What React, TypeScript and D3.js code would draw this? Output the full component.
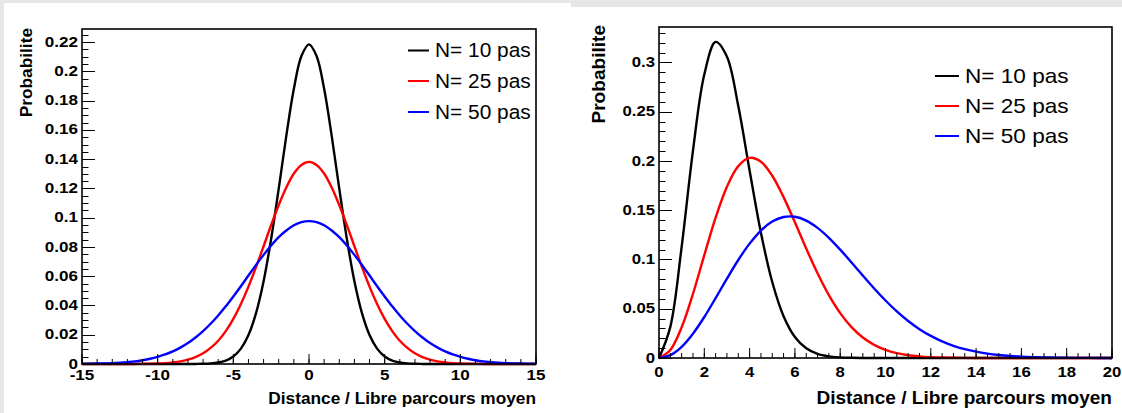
import React from "react";
import * as d3 from "d3";

// ---------- data ----------
const seriesNames = ["N= 10 pas", "N= 25 pas", "N= 50 pas"];
const seriesColors = ["#000000", "#ff0000", "#0000ff"];

const leftX = [
  -15, -14.5, -14, -13.5, -13, -12.5, -12, -11.5, -11, -10.5, -10, -9.5, -9, -8.5, -8, -7.5, -7, -6.5, -6, -5.5, -5,
  -4.5, -4, -3.5, -3, -2.5, -2, -1.5, -1, -0.5, 0, 0.5, 1, 1.5, 2, 2.5, 3, 3.5, 4, 4.5, 5, 5.5, 6, 6.5, 7, 7.5, 8,
  8.5, 9, 9.5, 10, 10.5, 11, 11.5, 12, 12.5, 13, 13.5, 14, 14.5, 15,
];
const leftN10 = [
  0, 0, 0, 0, 0, 0, 0, 0, 0, 0, 0, 0, 0, 0, 0,
  0.00005, 0.00014, 0.00039, 0.00099, 0.00234, 0.00514, 0.0105, 0.0198, 0.0348, 0.0566, 0.0856, 0.1199, 0.1559, 0.1881, 0.2105,
  0.2185,
  0.2105, 0.1881, 0.1559, 0.1199, 0.0856, 0.0566, 0.0348, 0.0198, 0.0105, 0.00514, 0.00234, 0.00099, 0.00039, 0.00014, 0.00005,
  0, 0, 0, 0, 0, 0, 0, 0, 0, 0, 0, 0, 0, 0, 0,
];
const leftN25 = [
  0, 0, 0, 0, 0, 0.00001, 0.00002, 0.00005, 0.0001, 0.0002, 0.0003, 0.0006, 0.0011, 0.0018, 0.003,
  0.0047, 0.0073, 0.011, 0.0159, 0.0225, 0.0308, 0.041, 0.0529, 0.0663, 0.0805, 0.095, 0.1087, 0.1207, 0.1302, 0.1361,
  0.1382,
  0.1361, 0.1302, 0.1207, 0.1087, 0.095, 0.0805, 0.0663, 0.0529, 0.041, 0.0308, 0.0225, 0.0159, 0.011, 0.0073, 0.0047,
  0.003, 0.0018, 0.0011, 0.0006, 0.0003, 0.0002, 0.0001, 0.00005, 0.00002, 0.00001, 0, 0, 0, 0, 0,
];
const leftN50 = [
  0.0001, 0.0002, 0.0003, 0.0004, 0.0006, 0.0009, 0.0013, 0.0018, 0.0026, 0.0036, 0.0049, 0.0065, 0.0086, 0.0112, 0.0143,
  0.0181, 0.0225, 0.0275, 0.0332, 0.0394, 0.0462, 0.0532, 0.0605, 0.0677, 0.0746, 0.081, 0.0867, 0.0913, 0.0948, 0.097,
  0.0977,
  0.097, 0.0948, 0.0913, 0.0867, 0.081, 0.0746, 0.0677, 0.0605, 0.0532, 0.0462, 0.0394, 0.0332, 0.0275, 0.0225, 0.0181,
  0.0143, 0.0112, 0.0086, 0.0065, 0.0049, 0.0036, 0.0026, 0.0018, 0.0013, 0.0009, 0.0006, 0.0004, 0.0003, 0.0002, 0.0001,
];

const rightX = [
  0, 0.5, 1, 1.5, 2, 2.5, 3, 3.5, 4, 4.5, 5, 5.5, 6, 6.5, 7, 7.5, 8, 8.5, 9, 9.5, 10, 10.5, 11, 11.5, 12, 12.5, 13,
  13.5, 14, 14.5, 15, 15.5, 16, 16.5, 17, 17.5, 18, 18.5, 19, 19.5, 20,
];
const rightN10 = [
  0, 0.0316, 0.1129, 0.2105, 0.2878, 0.3209, 0.3059, 0.2557, 0.1903, 0.1272, 0.0771, 0.0424, 0.0213, 0.0098, 0.0041,
  0.0016, 0.0006, 0.0002, 0.00006, 0.00002, 0, 0, 0, 0, 0, 0, 0, 0, 0, 0, 0, 0, 0, 0, 0, 0, 0, 0, 0, 0, 0,
];
const rightN25 = [
  0, 0.0082, 0.0312, 0.0652, 0.1044, 0.1425, 0.1739, 0.1948, 0.2032, 0.1993, 0.185, 0.1633, 0.1377, 0.1111, 0.086,
  0.0638, 0.0456, 0.0314, 0.0208, 0.0133, 0.0082, 0.0049, 0.0028, 0.0016, 0.00085, 0.00044, 0.00022, 0.00011, 0.00005,
  0.00002, 0.00001, 0, 0, 0, 0, 0, 0, 0, 0, 0, 0,
];
const rightN50 = [
  0, 0.0029, 0.0114, 0.0247, 0.0416, 0.0608, 0.0806, 0.0995, 0.1161, 0.1294, 0.1385, 0.1431, 0.1434, 0.1395, 0.1321,
  0.122, 0.11, 0.097, 0.0836, 0.0706, 0.0584, 0.0473, 0.0376, 0.0293, 0.0225, 0.0169, 0.0124, 0.009, 0.0064, 0.0045,
  0.0031, 0.0021, 0.0014, 0.0009, 0.0006, 0.0004, 0.0002, 0.00014, 0.00008, 0.00005, 0.00003,
];

const leftXTicks = [-15, -10, -5, 0, 5, 10, 15];
const leftXLabels = ["-15", "-10", "-5", "0", "5", "10", "15"];
const leftYTicks = [0, 0.02, 0.04, 0.06, 0.08, 0.1, 0.12, 0.14, 0.16, 0.18, 0.2, 0.22];
const leftYLabels = ["0", "0.02", "0.04", "0.06", "0.08", "0.1", "0.12", "0.14", "0.16", "0.18", "0.2", "0.22"];
const rightXTicks = [0, 2, 4, 6, 8, 10, 12, 14, 16, 18, 20];
const rightXLabels = ["0", "2", "4", "6", "8", "10", "12", "14", "16", "18", "20"];
const rightYTicks = [0, 0.05, 0.1, 0.15, 0.2, 0.25, 0.3];
const rightYLabels = ["0", "0.05", "0.1", "0.15", "0.2", "0.25", "0.3"];

const xTitle = "Distance / Libre parcours moyen";
const yTitle = "Probabilite";

const FONT = "'Liberation Sans', Arial, Helvetica, sans-serif";

type FontSpec = { size: number; sx: number };

type PanelProps = {
  frame: { x0: number; x1: number; y0: number; y1: number };
  xDomain: [number, number];
  yDomain: [number, number];
  xs: number[];
  ys: number[][];
  xTicks: number[];
  xLabels: string[];
  xMinorStep: number;
  yTicks: number[];
  yLabels: string[];
  yMinorStep: number;
  tickFont: FontSpec;
  titleFont: FontSpec;
  legendFont: FontSpec;
  xLabelBaseline: number;
  xTitleBaseline: number;
  yTitleX: number;
  yTitleTop: number;
  legend: { lx0: number; lx1: number; tx: number; rows: number[] };
  yMajorLen: number;
  xMajorLen: number;
};

function Panel(p: PanelProps) {
  const { frame } = p;
  const x = d3.scaleLinear().domain(p.xDomain).range([frame.x0, frame.x1]);
  const y = d3.scaleLinear().domain(p.yDomain).range([frame.y1, frame.y0]);
  const line = d3
    .line<[number, number]>()
    .x((d) => x(d[0]))
    .y((d) => y(d[1]))
    .curve(d3.curveCatmullRom.alpha(0.5));

  const xMinor = d3.range(p.xDomain[0], p.xDomain[1] + 1e-9, p.xMinorStep);
  const yMinor = d3.range(p.yDomain[0], p.yDomain[1] + 1e-9, p.yMinorStep);
  const round = (v: number) => Math.round(v) + 0.5;
  const tf = p.tickFont;

  return (
    <g>
      {p.ys.map((vals, i) => (
        <path
          key={i}
          d={line(p.xs.map((xv, j) => [xv, vals[j]] as [number, number])) || ""}
          fill="none"
          stroke={seriesColors[i]}
          strokeWidth={2.4}
        />
      ))}
      {xMinor.map((v, i) => (
        <line key={"xm" + i} x1={x(v)} x2={x(v)} y1={frame.y1} y2={frame.y1 - p.xMajorLen / 2} stroke="#000" strokeWidth={1} />
      ))}
      {yMinor.map((v, i) => (
        <line key={"ym" + i} x1={frame.x0} x2={frame.x0 + p.yMajorLen / 2} y1={round(y(v))} y2={round(y(v))} stroke="#000" strokeWidth={1} />
      ))}
      {p.xTicks.map((v, i) => (
        <g key={"xt" + i}>
          <line x1={x(v)} x2={x(v)} y1={frame.y1} y2={frame.y1 - p.xMajorLen} stroke="#000" strokeWidth={1} />
          <text
            transform={`translate(${x(v)},${p.xLabelBaseline}) scale(${tf.sx},1)`}
            textAnchor="middle"
            fontFamily={FONT}
            fontWeight="bold"
            fontSize={tf.size}
          >
            {p.xLabels[i]}
          </text>
        </g>
      ))}
      {p.yTicks.map((v, i) => (
        <g key={"yt" + i}>
          <line x1={frame.x0} x2={frame.x0 + p.yMajorLen} y1={round(y(v))} y2={round(y(v))} stroke="#000" strokeWidth={1} />
          <text
            transform={`translate(${frame.x0 - 4},${y(v) - 1 + tf.size * 0.358}) scale(${tf.sx},1)`}
            textAnchor="end"
            fontFamily={FONT}
            fontWeight="bold"
            fontSize={tf.size}
          >
            {p.yLabels[i]}
          </text>
        </g>
      ))}
      <rect
        x={frame.x0}
        y={frame.y0}
        width={frame.x1 - frame.x0}
        height={frame.y1 - frame.y0}
        fill="none"
        stroke="#000"
        strokeWidth={1.6}
      />
      <text
        transform={`translate(${frame.x1},${p.xTitleBaseline}) scale(${p.titleFont.sx},1)`}
        textAnchor="end"
        fontFamily={FONT}
        fontWeight="bold"
        fontSize={p.titleFont.size}
      >
        {xTitle}
      </text>
      <text
        transform={`translate(${p.yTitleX},${p.yTitleTop}) rotate(-90) scale(${p.titleFont.sx},1)`}
        textAnchor="end"
        fontFamily={FONT}
        fontWeight="bold"
        fontSize={p.titleFont.size}
      >
        {yTitle}
      </text>
      {seriesNames.map((name, i) => (
        <g key={"lg" + i}>
          <line
            x1={p.legend.lx0}
            x2={p.legend.lx1}
            y1={p.legend.rows[i]}
            y2={p.legend.rows[i]}
            stroke={seriesColors[i]}
            strokeWidth={2}
          />
          <text
            transform={`translate(${p.legend.tx},${p.legend.rows[i] + p.legendFont.size * 0.358}) scale(${p.legendFont.sx},1)`}
            fontFamily={FONT}
            fontSize={p.legendFont.size}
            fill="#000"
          >
            {name}
          </text>
        </g>
      ))}
    </g>
  );
}

export default function App() {
  return (
    <div style={{ position: "absolute", left: 0, top: 0 }}>
      <svg width={1122} height={413} viewBox="0 0 1122 413" style={{ display: "block" }}>
        <rect x={0} y={0} width={1122} height={413} fill="#e6e6e6" />
        <rect x={4} y={3} width={567} height={410} fill="#ffffff" />
        <rect x={571} y={7} width={551} height={406} fill="#ffffff" />
        <Panel
          frame={{ x0: 82, x1: 536, y0: 29, y1: 364 }}
          xDomain={[-15, 15]}
          yDomain={[0, 0.229]}
          xs={leftX}
          ys={[leftN10, leftN25, leftN50]}
          xTicks={leftXTicks}
          xLabels={leftXLabels}
          xMinorStep={1}
          yTicks={leftYTicks}
          yLabels={leftYLabels}
          yMinorStep={0.005}
          tickFont={{ size: 15.5, sx: 1.1 }}
          titleFont={{ size: 16, sx: 1.08 }}
          legendFont={{ size: 19.5, sx: 1.07 }}
          xLabelBaseline={380}
          xTitleBaseline={404}
          yTitleX={32}
          yTitleTop={28}
          legend={{ lx0: 408, lx1: 429, tx: 435, rows: [50.5, 81, 112] }}
          yMajorLen={13}
          xMajorLen={10}
        />
        <Panel
          frame={{ x0: 659, x1: 1112, y0: 27, y1: 358 }}
          xDomain={[0, 20]}
          yDomain={[0, 0.336]}
          xs={rightX}
          ys={[rightN10, rightN25, rightN50]}
          xTicks={rightXTicks}
          xLabels={rightXLabels}
          xMinorStep={0.5}
          yTicks={rightYTicks}
          yLabels={rightYLabels}
          yMinorStep={0.01}
          tickFont={{ size: 15.5, sx: 1.08 }}
          titleFont={{ size: 18, sx: 1.06 }}
          legendFont={{ size: 20, sx: 1.13 }}
          xLabelBaseline={377}
          xTitleBaseline={404}
          yTitleX={605}
          yTitleTop={25}
          legend={{ lx0: 935, lx1: 959, tx: 965, rows: [76, 106, 136] }}
          yMajorLen={13}
          xMajorLen={10}
        />
      </svg>
    </div>
  );
}
